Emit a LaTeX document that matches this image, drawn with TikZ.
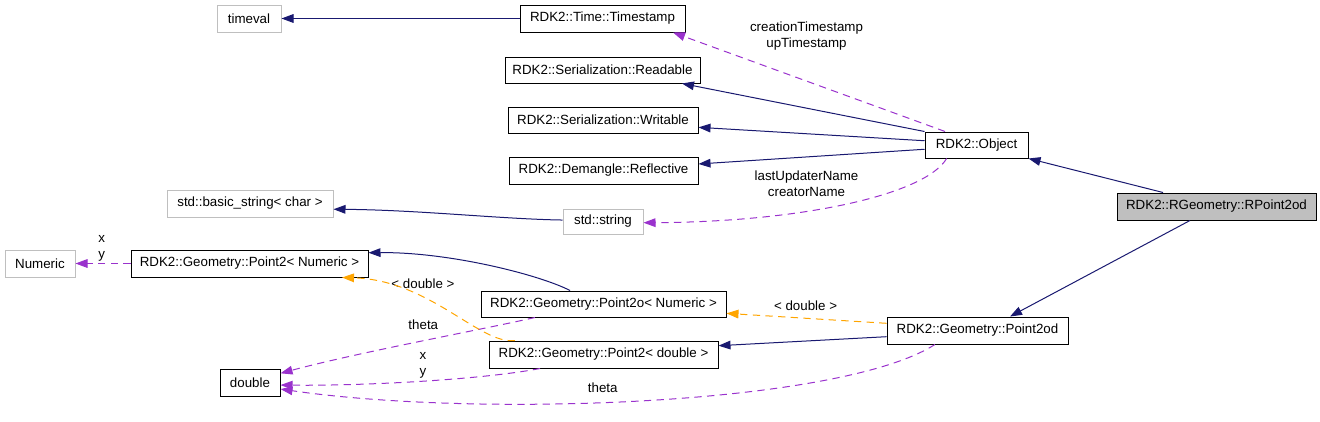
\documentclass[tikz,border=0pt]{standalone}
\usepackage{fontspec}
\setmainfont{Liberation Sans}
\usetikzlibrary{arrows.meta}
\definecolor{navyedge}{HTML}{191970}
\definecolor{purpleedge}{HTML}{9A32CD}
\definecolor{orangeedge}{HTML}{FFA500}
\definecolor{extgray}{HTML}{BFBFBF}
\begin{document}
\begin{tikzpicture}[x=0.75pt,y=-0.75pt,
  font=\fontsize{10}{12}\selectfont,
  cls/.style={draw=black,line width=0.75pt,rectangle,inner sep=0pt,fill=white},
  ext/.style={draw=extgray,line width=0.75pt,rectangle,inner sep=0pt,fill=white},
  cur/.style={draw=black,line width=0.75pt,rectangle,inner sep=0pt,fill=extgray},
  tip/.style={-{Triangle[length=9pt,width=6.5pt]}},
  inh/.style={tip,draw=navyedge,line width=0.75pt},
  use/.style={tip,draw=purpleedge,line width=0.75pt,dash pattern=on 5.5pt off 4pt},
  tmpl/.style={tip,draw=orangeedge,line width=0.75pt,dash pattern=on 5.5pt off 4pt},
  lbl/.style={align=center,inner sep=0pt}]
\useasboundingbox (0,0) rectangle (1320,421);

% nodes
\node[ext, minimum width=48pt, minimum height=20.25pt] (tv) at (249,18.5) {timeval};
\node[cls, minimum width=123.75pt, minimum height=20.25pt] (ts) at (602.5,18.5) {RDK2::Time::Timestamp};
\node[cls, minimum width=146.25pt, minimum height=19.5pt] (rd) at (602.5,70) {RDK2::Serialization::Readable};
\node[cls, minimum width=142.5pt, minimum height=19.5pt] (wr) at (603,120) {RDK2::Serialization::Writable};
\node[cls, minimum width=141.75pt, minimum height=20.25pt] (rf) at (603.5,170.5) {RDK2::Demangle::Reflective};
\node[cls, minimum width=77.25pt, minimum height=19.5pt] (obj) at (976.5,145) {RDK2::Object};
\node[ext, minimum width=124.5pt, minimum height=20.25pt] (bs) at (250,203.5) {std::basic\_string< char >};
\node[ext, minimum width=60pt, minimum height=18.75pt] (str) at (603,221.5) {std::string};
\node[cur, minimum width=149.25pt, minimum height=20.25pt] (rp) at (1216.5,206.5) {RDK2::RGeometry::RPoint2od};
\node[ext, minimum width=52.5pt, minimum height=20.25pt] (num) at (40,263.5) {Numeric};
\node[cls, minimum width=177.75pt, minimum height=20.25pt] (p2n) at (249.5,263.5) {RDK2::Geometry::Point2< Numeric >};
\node[cls, minimum width=183.75pt, minimum height=19.5pt] (p2o) at (603.5,304) {RDK2::Geometry::Point2o< Numeric >};
\node[cls, minimum width=135.75pt, minimum height=20.25pt] (pod) at (977.5,330.5) {RDK2::Geometry::Point2od};
\node[cls, minimum width=171.75pt, minimum height=20.25pt] (p2d) at (603.5,354.5) {RDK2::Geometry::Point2< double >};
\node[cls, minimum width=45pt, minimum height=20.25pt] (dbl) at (250,382.5) {double};

% edge labels
\node[lbl] (l1) at (806.5,36) {creationTimestamp\\upTimestamp};
\node[lbl] (l2) at (806.5,183.7) {lastUpdaterName\\creatorName};
\node[lbl] (l3) at (101.7,248) {x\\y};
\node[lbl] (l4) at (423,284) {< double >};
\node[lbl] (l5) at (423.3,324.3) {theta};
\node[lbl] (l6) at (423,365) {x\\y};
\node[lbl] (l7) at (805.6,306) {< double >};
\node[lbl] (l8) at (602.7,387.7) {theta};

% edges
\draw[inh] (ts.west) -- (tv.east);
\draw[use] ([xshift=-23.6pt]obj.north) -- ([xshift=52.9pt]ts.south);
\draw[inh] (obj.north west) -- ([xshift=59.6pt]rd.south);
\draw[inh] ([yshift=3.2pt]obj.west) -- ([yshift=-5.5pt]wr.east);
\draw[inh] ([yshift=-3.2pt]obj.west) -- ([yshift=4.9pt]rf.east);
\draw[use] ([xshift=-22.4pt]obj.south) .. controls (925,195) and (800,222) .. ([yshift=-0.9pt]str.east);
\draw[inh] ([yshift=1.1pt]str.west) .. controls (500,219) and (420,210) .. ([yshift=-4.3pt]bs.east);
\draw[inh] ([xshift=-40.1pt]rp.north) -- (obj.south east);
\draw[inh] ([xshift=-19.9pt]rp.south) -- ([xshift=24.4pt]pod.north);
\draw[tmpl] ([yshift=5.4pt]pod.west) -- ([yshift=-7pt]p2o.east);
\draw[inh] ([yshift=-4.65pt]pod.west) -- ([yshift=6.6pt]p2d.east);
\draw[use] ([xshift=-31.9pt]pod.south) .. controls (840,405) and (480,418) .. ([yshift=-4.9pt]dbl.east);
\draw[inh] ([xshift=-25.1pt]p2o.north) .. controls (540,275) and (450,252) .. ([yshift=8.1pt]p2n.east);
\draw[use] ([xshift=-51.4pt]p2o.south) .. controls (480,330) and (360,352) .. ([yshift=6.9pt]dbl.east);
\draw[tmpl] ([xshift=-66.4pt]p2d.north) .. controls (480,345) and (430,280) .. ([xshift=69.4pt]p2n.south);
\draw[use] ([xshift=-47.6pt]p2d.south) .. controls (480,380) and (360,386) .. ([yshift=-1.9pt]dbl.east);
\draw[use] (p2n.west) -- (num.east);
\end{tikzpicture}
\end{document}
